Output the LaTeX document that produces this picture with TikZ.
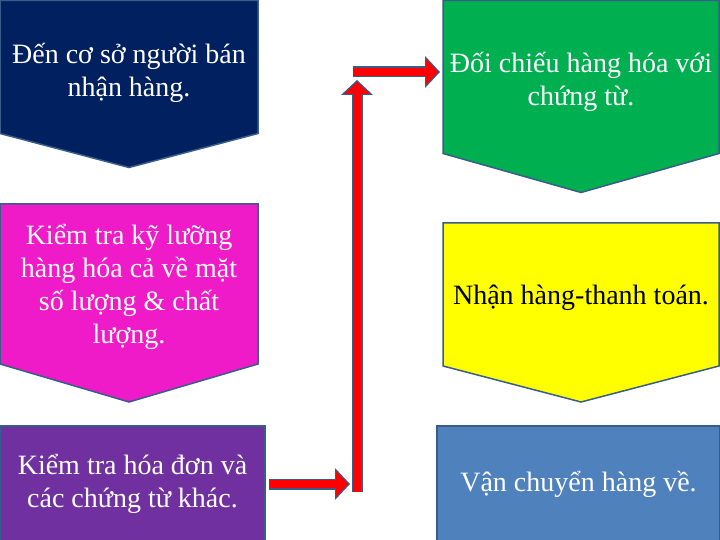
\documentclass[tikz,border=0pt]{standalone}
\usepackage{fontspec}
\setmainfont{Liberation Serif}
\usetikzlibrary{arrows.meta,calc,backgrounds}

\begin{document}
\begin{tikzpicture}[x=1pt,y=-1pt]
    \definecolor{mynavy}{RGB}{0,32,96}
    \definecolor{mypink}{RGB}{240,27,200}
    \definecolor{mypurple}{RGB}{112,48,160}
    \definecolor{mygreen}{RGB}{0,176,80}
    \definecolor{myyellow}{RGB}{255,255,0}
    \definecolor{mysteel}{RGB}{79,129,189}
    \definecolor{myedge}{RGB}{56,93,138}
    \definecolor{myred}{RGB}{255,0,0}

    \tikzstyle{format}=[rectangle,anchor=north west,inner sep=0pt,outer sep=0pt,align=center,text=white,font=\fontsize{28}{33}\selectfont]  % khung chung
    \tikzstyle{border}=[draw=myedge,line width=1.5pt,line join=miter]  % viền khung
    \tikzstyle{fat}=[draw=myred,line width=8pt,shorten >=2pt,-{Triangle[length=12pt,width=26pt,line width=0pt]},
        preaction={draw=myedge,line width=11pt,shorten >=0pt,-{Triangle[length=15pt,width=32pt,line width=0pt]}}]  % mũi tên đỏ

    \useasboundingbox (0,0) rectangle (720,540);

    % cột trái (chữ hạ xuống một chút, khung vẽ lại ở dưới)
    \node[format,minimum width=258pt,minimum height=133pt](s1) at (0,6.5){Đến cơ sở người bán\\nhận hàng.};
    \node[format,minimum width=258pt,minimum height=160pt](s2) at (0,207){Kiểm tra kỹ lưỡng\\hàng hóa cả về mặt\\số lượng \& chất\\lượng.};
    \node[format,border,fill=mypurple,minimum width=265pt,minimum height=116pt](s3) at (0,426){Kiểm tra hóa đơn và\\các chứng từ khác.};
    % cột phải
    \node[format,minimum width=276pt,minimum height=153pt](s4) at (443,5.5){Đối chiếu hàng hóa với\\chứng từ.};
    \node[format,text=black,minimum width=276pt,minimum height=143pt](s5) at (443,226){Nhận hàng-thanh toán.};
    \node[format,border,fill=mysteel,minimum width=283pt,minimum height=116pt](s6) at (437,426){Vận chuyển hàng về.};

    % khung mũi nhọn
    \begin{pgfonlayer}{background}
      \foreach \n/\c/\d/\s in {s1/mynavy/34/6,s2/mypink/38/3,s4/mygreen/39/5,s5/myyellow/36/3}
        \draw[border,fill=\c] ([yshift=\s pt]\n.north west) -- ([yshift=\s pt]\n.north east) -- ([yshift=\s pt]\n.south east)
          -- ($([yshift=\s pt]\n.south)+(0,\d)$) -- ([yshift=\s pt]\n.south west) -- cycle;
    \end{pgfonlayer}

    % mũi tên
    \coordinate (vbot) at (357,492);
    \coordinate (vtop) at (357,80);
    \coordinate (hl) at (353,72);
    \draw[fat] ([xshift=4pt]s3.east) -- ([xshift=-7pt]vbot |- s3.east);
    \draw[fat] (vbot) -- (vtop);
    \draw[fat] (hl) -- ([xshift=-3pt]hl -| s4.west);
\end{tikzpicture}
\end{document}
